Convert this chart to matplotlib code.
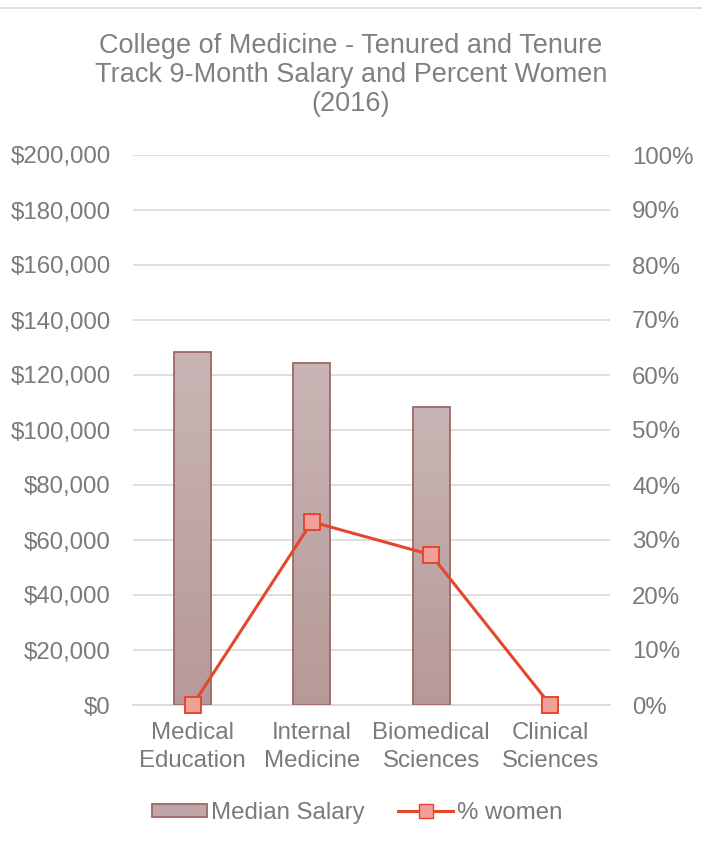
import numpy as np
import matplotlib.pyplot as plt
from matplotlib.patches import Rectangle
from matplotlib.lines import Line2D

plt.rcParams['font.family'] = ['Liberation Sans', 'DejaVu Sans']

categories = ["Medical\nEducation", "Internal\nMedicine", "Biomedical\nSciences", "Clinical\nSciences"]
median_salary = [128500, 124200, 108400, 0]
pct_women = [0.0, 33.3, 27.3, 0.0]

grey = "#7a7a7a"
line_col = "#e4472b"
fs = 17.3

fig = plt.figure(figsize=(7.02, 8.44), dpi=100)
ax = fig.add_axes([133 / 702, 1 - 705 / 844, 477 / 702, 550 / 844])
ax2 = ax.twinx()

x = np.arange(len(categories))
w = 0.31
grad = np.linspace(0, 1, 256).reshape(-1, 1)
cmap = plt.matplotlib.colors.LinearSegmentedColormap.from_list("g", ["#b79999", "#c9b5b5"])
for xi, v in zip(x, median_salary):
    if v <= 0:
        continue
    r = Rectangle((xi - w / 2, 0), w, v, facecolor="none", edgecolor="#9c6868", lw=1.3, zorder=3)
    ax.add_patch(r)
    im = ax.imshow(grad, cmap=cmap, aspect="auto", origin="lower",
                   extent=(xi - w / 2, xi + w / 2, 0, v), zorder=2)
    im.set_clip_path(r)

ax.set_xlim(-0.5, len(categories) - 0.5)
ax.set_ylim(0, 200000)
ax.set_yticks(np.arange(0, 200001, 20000))
ax.set_yticklabels(["${:,.0f}".format(t) for t in np.arange(0, 200001, 20000)])
ax.set_xticks(x)
ax.set_xticklabels(categories, linespacing=1.35)
ax.grid(axis="y", color="#d9d9d9", lw=1.2, zorder=0)
ax.set_axisbelow(True)

ax2.plot(x, pct_women, color=line_col, lw=2.2, marker="s", ms=11.5, clip_on=False,
         markerfacecolor="#f2a097", markeredgecolor=line_col, markeredgewidth=1.4, zorder=5)
ax2.set_ylim(0, 100)
ax2.set_yticks(np.arange(0, 101, 10))
ax2.set_yticklabels(["{}%".format(t) for t in range(0, 101, 10)])

for a in (ax, ax2):
    for s in a.spines.values():
        s.set_visible(False)
    a.tick_params(length=0, labelsize=fs, labelcolor=grey, pad=16)
ax.tick_params(axis="x", pad=12)
ax.spines["bottom"].set_visible(True)
ax.spines["bottom"].set_color("#d9d9d9")
ax.spines["bottom"].set_linewidth(1.2)

title_lines = ["College of Medicine - Tenured and Tenure",
               "Track 9-Month Salary and Percent Women",
               "(2016)"]
for i, t in enumerate(title_lines):
    fig.text(0.5, 1 - (46 + 29 * i) / 844, t, ha="center", va="center", fontsize=19.5, color="#808080")

fig.add_artist(Line2D([0, 1], [1 - 8 / 844, 1 - 8 / 844], color="#d9d9d9", lw=1.2))

handles = [Rectangle((0, 0), 1, 1, facecolor="#c0a6a6", edgecolor="#9c6868", lw=1.3),
           Line2D([], [], color=line_col, lw=2.2, marker="s", ms=10,
                  markerfacecolor="#f2a097", markeredgecolor=line_col)]
fig.legend(handles, ["Median Salary", "% women"], loc="center",
           bbox_to_anchor=(0.5 + 6 / 702, 1 - 813 / 844),
           ncol=2, frameon=False, fontsize=fs, labelcolor=grey, handlelength=2.3, handleheight=0.5,
           handletextpad=0.15, columnspacing=1.4)

fig.savefig("out.png", dpi=100)
